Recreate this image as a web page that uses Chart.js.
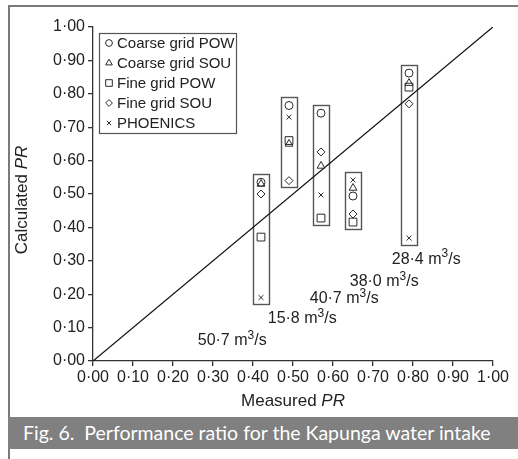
<!DOCTYPE html>
<html>
<head>
<meta charset="utf-8">
<script src="https://cdn.jsdelivr.net/npm/chart.js@4/dist/chart.umd.min.js"></script>
<style>
  html, body { margin: 0; padding: 0; background: #fff; }
  #wrap { position: relative; width: 518px; height: 459px; overflow: hidden; }
  #frame { position: absolute; left: 8px; top: 5px; width: 520px; height: 480px;
           box-sizing: border-box; border: 2px solid #7a7a7a; }
  #caption { position: absolute; left: 8px; top: 417px; width: 520px; height: 32px;
             background: #808080; color: #fff; font-family: Lato, "Open Sans", sans-serif;
             font-size: 19.5px; line-height: 32px; padding-left: 15px; box-sizing: border-box;
             white-space: nowrap; }
  canvas { position: absolute; left: 0; top: 0; }
</style>
</head>
<body>
<div id="wrap">
  <div id="frame"></div>
  <div id="caption">Fig. 6.&nbsp; Performance ratio for the Kapunga water intake</div>
  <canvas id="c" width="518" height="459"></canvas>
</div>
<script>
// Measured performance ratio of each flow case
const measured = [0.42, 0.49, 0.57, 0.65, 0.79];
const flowLabels = ['50·7 m³/s', '15·8 m³/s', '40·7 m³/s', '38·0 m³/s', '28·4 m³/s'];

// Calculated performance ratio per model
const coarsePOW = [0.535, 0.765, 0.742, 0.494, 0.862];
const coarseSOU = [0.530, 0.650, 0.584, 0.518, 0.832];
const finePOW   = [0.371, 0.660, 0.428, 0.416, 0.820];
const fineSOU   = [0.500, 0.540, 0.626, 0.440, 0.770];
const phoenics  = [0.190, 0.730, 0.497, 0.542, 0.368];

const seriesNames = ['Coarse grid POW', 'Coarse grid SOU', 'Fine grid POW', 'Fine grid SOU', 'PHOENICS'];
const seriesValues = [coarsePOW, coarseSOU, finePOW, fineSOU, phoenics];

// Axis ticks
const tickValues = [0, 0.1, 0.2, 0.3, 0.4, 0.5, 0.6, 0.7, 0.8, 0.9, 1.0];
const fmt = v => Number(v).toFixed(2).replace('.', '·');

// Marker styles
const markerStyles = [
  { pointStyle: 'circle',   radius: 4 },
  { pointStyle: 'triangle', radius: 4.5 },
  { pointStyle: 'rect',     radius: 5.5 },
  { pointStyle: 'rectRot',  radius: 4 },
  { pointStyle: 'crossRot', radius: 3.5 }
];
const ink = '#2a2a2a';
const FONT = '"Liberation Sans", Arial, sans-serif';

// Where each flow-rate caption sits (data coordinates of the text centre)
const captionAnchor = [
  { x: 0.348, y: 0.060 },
  { x: 0.523, y: 0.128 },
  { x: 0.628, y: 0.186 },
  { x: 0.728, y: 0.237 },
  { x: 0.833, y: 0.305 }
];

const datasets = seriesValues.map((vals, k) => ({
  label: seriesNames[k],
  data: measured.map((m, i) => ({ x: m, y: vals[i] })),
  pointStyle: markerStyles[k].pointStyle,
  pointRadius: markerStyles[k].radius,
  pointBorderWidth: 1,
  pointBorderColor: ink,
  pointBackgroundColor: 'rgba(255,255,255,0)',
  showLine: false
}));
// Line of perfect agreement
datasets.push({
  label: 'Calculated = Measured',
  data: [{ x: 0, y: 0 }, { x: 1, y: 1 }],
  showLine: true,
  borderColor: '#111',
  borderWidth: 1.3,
  pointRadius: 0
});

function drawItalicPair(ctx, plain, italic, cx, cy, size) {
  ctx.font = size + 'px ' + FONT;
  const w1 = ctx.measureText(plain).width;
  ctx.font = 'italic ' + size + 'px ' + FONT;
  const w2 = ctx.measureText(italic).width;
  const start = cx - (w1 + w2) / 2;
  ctx.textAlign = 'left';
  ctx.textBaseline = 'middle';
  ctx.font = size + 'px ' + FONT;
  ctx.fillText(plain, start, cy);
  ctx.font = 'italic ' + size + 'px ' + FONT;
  ctx.fillText(italic, start + w1, cy);
}

// Text with a raised, smaller "3" for the unit m³/s
function drawFlowLabel(ctx, text, cx, cy) {
  const [before, after] = text.split('³');
  const big = '16px ' + FONT, small = '12px ' + FONT;
  ctx.font = big;  const w1 = ctx.measureText(before).width;
  ctx.font = small; const w2 = ctx.measureText('3').width;
  ctx.font = big;  const w3 = ctx.measureText(after).width;
  let px = cx - (w1 + w2 + w3) / 2;
  ctx.textAlign = 'left';
  ctx.textBaseline = 'middle';
  ctx.font = big;   ctx.fillText(before, px, cy); px += w1;
  ctx.font = small; ctx.fillText('3', px, cy - 5); px += w2;
  ctx.font = big;   ctx.fillText(after, px, cy);
}

const decorations = {
  id: 'decorations',
  beforeDatasetsDraw(chart) {
    // Boxes enclosing the results of each flow case
    const { ctx, scales: { x, y } } = chart;
    ctx.save();
    ctx.strokeStyle = '#555';
    ctx.lineWidth = 1.4;
    measured.forEach((m, i) => {
      const vals = seriesValues.map(s => s[i]);
      const px = x.getPixelForValue(m);
      const top = y.getPixelForValue(Math.max(...vals)) - 8;
      const bot = y.getPixelForValue(Math.min(...vals)) + 7;
      ctx.strokeRect(Math.round(px - 8) + 0.5, Math.round(top) + 0.5, 16, Math.round(bot - top));
    });
    ctx.restore();
  },
  afterDraw(chart) {
    const { ctx, scales: { x, y }, chartArea } = chart;
    ctx.save();
    ctx.fillStyle = '#222';

    // Flow-rate captions
    flowLabels.forEach((t, i) => {
      drawFlowLabel(ctx, t, x.getPixelForValue(captionAnchor[i].x), y.getPixelForValue(captionAnchor[i].y));
    });

    // Axis titles
    drawItalicPair(ctx, 'Measured ', 'PR', (chartArea.left + chartArea.right) / 2, 401, 17);
    ctx.save();
    ctx.translate(22, (chartArea.top + chartArea.bottom) / 2 + 6);
    ctx.rotate(-Math.PI / 2);
    drawItalicPair(ctx, 'Calculated ', 'PR', 0, 0, 17);
    ctx.restore();

    // Legend
    const lx = 99, ly = 33, lw = 137, lh = 100;
    ctx.strokeStyle = '#555';
    ctx.lineWidth = 1.2;
    ctx.strokeRect(lx + 0.5, ly + 0.5, lw, lh);
    ctx.font = '15px ' + FONT;
    ctx.textAlign = 'left';
    ctx.textBaseline = 'middle';
    seriesNames.forEach((name, k) => {
      const ry = ly + 10 + k * 20;
      ctx.strokeStyle = ink;
      ctx.fillStyle = 'rgba(255,255,255,0)';
      ctx.lineWidth = 1;
      Chart.helpers.drawPoint(ctx, {
        pointStyle: markerStyles[k].pointStyle,
        radius: markerStyles[k].radius * 0.85,
        rotation: 0,
        borderWidth: 1
      }, lx + 10, ry);
      ctx.fillStyle = '#222';
      ctx.fillText(name, lx + 18, ry + 0.5);
    });
    ctx.restore();
  }
};

new Chart(document.getElementById('c'), {
  type: 'scatter',
  data: { datasets },
  options: {
    responsive: false,
    animation: false,
    devicePixelRatio: 1,
    layout: { padding: { top: 27, right: 25, left: 0, bottom: 0 } },
    plugins: { legend: { display: false }, tooltip: { enabled: false } },
    scales: {
      x: {
        type: 'linear', min: 0, max: 1,
        afterFit(s) { s.height = 98; },
        afterBuildTicks(s) { s.ticks = tickValues.map(v => ({ value: v })); },
        ticks: { callback: fmt, color: '#222', font: { family: FONT, size: 16 }, padding: 2,
                 maxRotation: 0, autoSkip: false },
        grid: { drawOnChartArea: false, tickLength: 5, color: '#333', lineWidth: 1.3 },
        border: { color: '#333', width: 1.3 }
      },
      y: {
        type: 'linear', min: 0, max: 1,
        afterFit(s) { s.width = 93; },
        afterBuildTicks(s) { s.ticks = tickValues.map(v => ({ value: v })); },
        ticks: { callback: fmt, color: '#222', font: { family: FONT, size: 16 }, padding: 3,
                 autoSkip: false },
        grid: { drawOnChartArea: false, tickLength: 5, color: '#333', lineWidth: 1.3 },
        border: { color: '#333', width: 1.3 }
      }
    }
  },
  plugins: [decorations]
});
</script>
</body>
</html>
